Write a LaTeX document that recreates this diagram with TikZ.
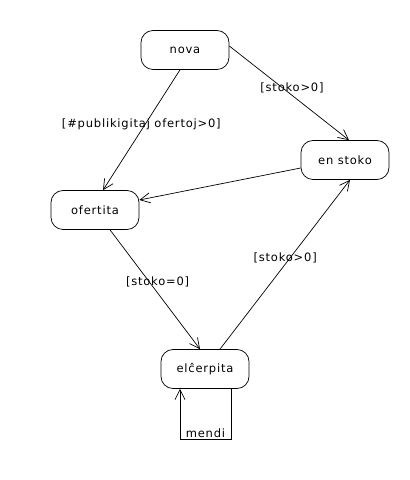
\documentclass[tikz,border=0pt]{standalone}
\usepackage{fontspec}
\setmainfont{DejaVu Sans}[LetterSpace=7]
\usetikzlibrary{positioning,arrows.meta,calc}

\begin{document}
\begin{tikzpicture}[x=1pt,y=1pt,
mystate/.style={
  draw,
  rounded corners=12pt,
  minimum width=88pt,
  minimum height=39pt,
  font=\fontsize{11.5}{13}\selectfont},
myarrow/.style={
  -{Straight Barb[length=10pt,width=10pt]}},
mylabel/.style={
  font=\fontsize{11.5}{13}\selectfont},
line width=0.7pt
]
\useasboundingbox (0,0) rectangle (410,480);
% states
\node[mystate] (nova) at (185,430) {nova};
\node[mystate] (enstoko) at (345,320) {en stoko};
\node[mystate] (ofertita) at (95,270) {ofertita};
\node[mystate] (elcerpita) at (205,111) {elĉerpita};
% transitions
\draw[myarrow] ([xshift=-5pt]nova.south) --
  node[mylabel,pos=0.45,xshift=-4pt] {[\#publikigitaj ofertoj>0]} ([xshift=8pt]ofertita.north);
\draw[myarrow] ([yshift=4pt]nova.east) --
  node[mylabel,pos=0.44,xshift=10pt] {[stoko>0]} ([xshift=4pt]enstoko.north);
\draw[myarrow] ([yshift=-8pt]enstoko.west) -- ([yshift=10pt]ofertita.east);
\draw[myarrow] ([xshift=15pt]ofertita.south) --
  node[mylabel,pos=0.44,xshift=8pt] {[stoko=0]} ([xshift=-5pt]elcerpita.north);
\draw[myarrow] ([xshift=15pt]elcerpita.north) --
  node[mylabel,pos=0.54,xshift=-5pt] {[stoko>0]} ([xshift=5pt]enstoko.south);
%\draw (elcerpita) loop
\draw[myarrow] ([xshift=26pt]elcerpita.south) -- ++(0,-51) -|
  node[mylabel,pos=0.25,above,inner sep=1.5pt] {mendi} ([xshift=-25pt]elcerpita.south);
\end{tikzpicture}
\end{document}
